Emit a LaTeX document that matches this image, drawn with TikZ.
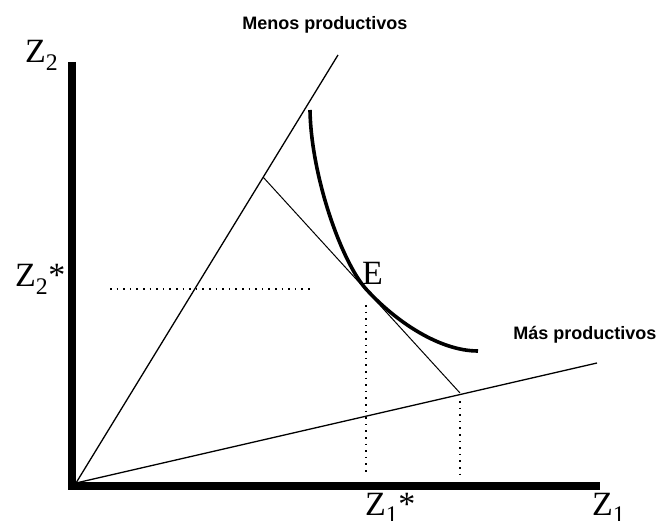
\documentclass[tikz,border=0pt]{standalone}
\usepackage{fontspec}
\setmainfont{Liberation Serif}
\newfontfamily\tagfont{Liberation Sans}
\usetikzlibrary{positioning}

\begin{document}
\begin{tikzpicture}[x=1pt, y=-1pt,
    axis/.style={line width=7.5pt},
    ray/.style={line width=1.3pt},
    budget/.style={line width=1pt},
    guide/.style={line width=1.6pt, dash pattern=on 1.6pt off 5pt},
    isoquant/.style={line width=3.6pt},
    varname/.style={font=\fontsize{34}{34}\selectfont, inner sep=0pt, anchor=base west},
    tag/.style={font=\tagfont\bfseries\fontsize{18}{18}\selectfont, inner sep=0pt}
  ]
  \useasboundingbox (0,0) rectangle (659,521);

  \coordinate (O) at (76,483);
  \coordinate (Y) at (72,62);
  \coordinate (X) at (600,486);
  \coordinate (Menos) at (338,55);
  \coordinate (Mas) at (597,363);
  \coordinate (A) at (263,177);
  \coordinate (B) at (460,393);
  \coordinate (E) at (366,289);
  \coordinate (H) at (110,289);
  \coordinate (C1) at (310,110);
  \coordinate (C2) at (478,351);

  \draw[axis] (Y) |- (X);
  \draw[ray] (O) -- (Menos);
  \draw[ray] (O) -- (Mas);
  \draw[budget] (A) -- (B);
  \draw[isoquant] (C1) .. controls (311,175) and (341,261) .. (E)
    .. controls (396,322) and (440,351) .. (C2);

  \draw[guide, shorten >=54pt] (H) -- (E);
  \draw[guide, shorten <=16pt, shorten >=10pt] (E) -- (E |- X);
  \draw[guide, shorten <=8pt, shorten >=10pt] (B) -- (B |- X);

  \node[varname] (z2) at (25,63) {Z\textsubscript{2}};
  \node[varname] (z2s) at (15,287) {Z\textsubscript{2}*};
  \node[varname] (elabel) at (362,285) {E};
  \node[varname] (z1s) at (365,515) {Z\textsubscript{1}*};
  \node[varname] (z1) at (592,515) {Z\textsubscript{1}};
  \node[tag] (menostag) at (325,25) {Menos productivos};
  \node[tag] (mastag) at (585,335) {Más productivos};
\end{tikzpicture}
\end{document}
